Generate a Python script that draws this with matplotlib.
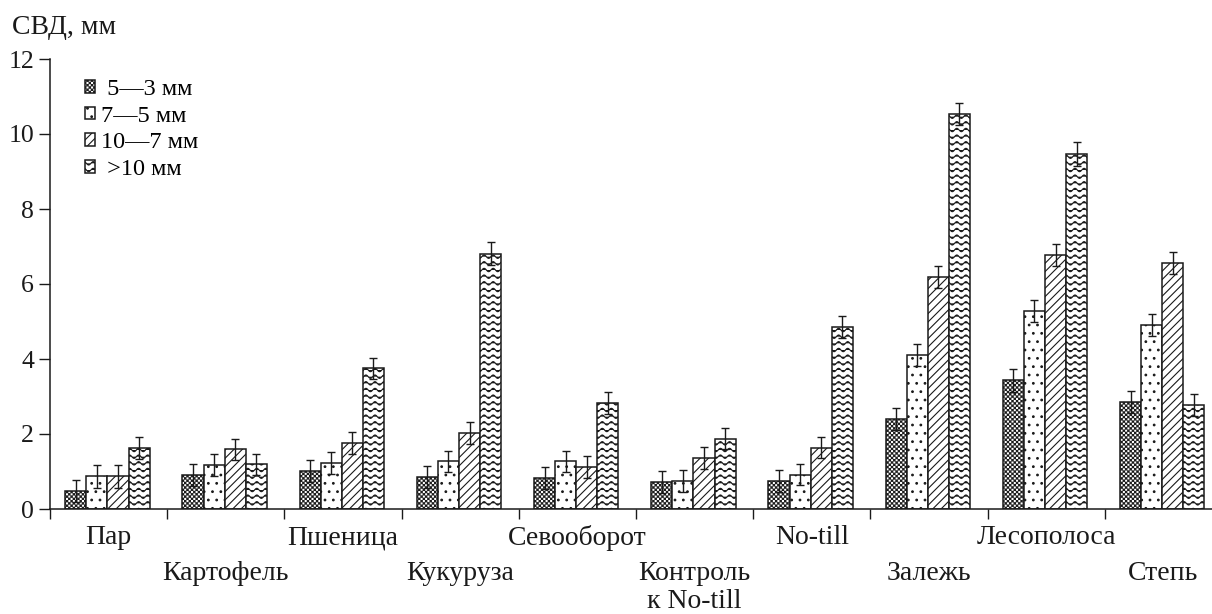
import warnings
import numpy as np
import matplotlib
matplotlib.use("Agg")
import matplotlib.pyplot as plt
import matplotlib.hatch as mhatch
from matplotlib.path import Path

warnings.filterwarnings("ignore")

# ---- data -------------------------------------------------------------
groups = ["Пар", "Картофель", "Пшеница", "Кукуруза", "Севооборот",
          "Контроль\nк No-till", "No-till", "Залежь", "Лесополоса", "Степь"]
series = [" 5—3 мм", "7—5 мм", "10—7 мм", " >10 мм"]

v_5_3 = [0.48, 0.91, 1.02, 0.86, 0.82, 0.72, 0.75, 2.41, 3.43, 2.86]
v_7_5 = [0.87, 1.17, 1.22, 1.27, 1.27, 0.75, 0.92, 4.11, 5.28, 4.91]
v_10_7 = [0.87, 1.59, 1.76, 2.03, 1.13, 1.36, 1.64, 6.18, 6.77, 6.57]
v_gt10 = [1.62, 1.19, 3.75, 6.81, 2.83, 1.88, 4.86, 10.54, 9.46, 2.78]

e_5_3 = [0.29, 0.29, 0.29, 0.29, 0.29, 0.29, 0.29, 0.29, 0.30, 0.29]
e_7_5 = [0.30, 0.29, 0.29, 0.29, 0.29, 0.29, 0.29, 0.29, 0.30, 0.29]
e_10_7 = [0.30, 0.29, 0.29, 0.29, 0.29, 0.29, 0.29, 0.29, 0.29, 0.29]
e_gt10 = [0.29, 0.29, 0.29, 0.31, 0.29, 0.29, 0.29, 0.29, 0.32, 0.29]


# ---- extra hatch patterns: checkerboard ('c') and waves ('~') ---------
class CheckerHatch(mhatch.HatchPatternBase):
    def __init__(self, hatch, density):
        self.n = 44 if "c" in hatch else 0
        self.num_squares = (self.n * self.n) // 2
        self.num_vertices = self.num_squares * 5

    def set_vertices_and_codes(self, vertices, codes):
        cell = 1.0 / self.n
        side = cell * 0.6
        k = 0
        for i in range(self.n):
            for j in range(self.n):
                if (i + j) % 2:
                    continue
                x0 = i * cell + (cell - side) / 2
                y0 = j * cell + (cell - side) / 2
                vertices[k:k + 5] = [(x0, y0), (x0 + side, y0),
                                     (x0 + side, y0 + side), (x0, y0 + side),
                                     (x0, y0)]
                codes[k:k + 5] = [Path.MOVETO, Path.LINETO, Path.LINETO,
                                  Path.LINETO, Path.CLOSEPOLY]
                k += 5


class WaveHatch(mhatch.HatchPatternBase):
    def __init__(self, hatch, density):
        self.num_lines = 15 if "~" in hatch else 0
        self.num_pts = 145
        self.num_vertices = self.num_lines * self.num_pts

    def set_vertices_and_codes(self, vertices, codes):
        t = np.linspace(0.0, 1.0, self.num_pts)
        wave = 0.017 * np.sin(2 * np.pi * 11 * t)
        for k in range(self.num_lines):
            sl = slice(k * self.num_pts, (k + 1) * self.num_pts)
            vertices[sl, 0] = t
            vertices[sl, 1] = (k + 0.5) / self.num_lines + wave
            codes[sl] = Path.LINETO
            codes[k * self.num_pts] = Path.MOVETO


mhatch._hatch_types.extend([CheckerHatch, WaveHatch])

# ---- style --------------------------------------------------------------
plt.rcParams["font.family"] = ["Liberation Serif", "DejaVu Serif"]
plt.rcParams["hatch.linewidth"] = 0.8
plt.rcParams["hatch.color"] = "#1a1a1a"
ink = "#1a1a1a"

fig = plt.figure(figsize=(12.12, 6.14), dpi=100)
ax = fig.add_axes([50 / 1212, 105 / 614, 1162 / 1212, 450 / 614])

values = [v_5_3, v_7_5, v_10_7, v_gt10]
errors = [e_5_3, e_7_5, e_10_7, e_gt10]
hatches = ["c", "..", "////", "~"]

n = len(groups)
x = np.arange(n) + 0.49
w = 0.18
for j in range(4):
    ax.bar(x + (j - 1.5) * w, values[j], w, color="white", edgecolor=ink,
           linewidth=1.1, hatch=hatches[j], label=series[j], zorder=2)
    ax.errorbar(x + (j - 1.5) * w, values[j], yerr=errors[j], fmt="none",
                ecolor=ink, elinewidth=1.0, capsize=3.0, capthick=1.0,
                zorder=3)

ax.set_ylim(0, 12)
ax.set_xlim(0, 1162 / 117.2)
ax.set_yticks(np.arange(0, 13, 2))
ax.tick_params(axis="y", direction="out", length=8, width=1.0, pad=3.5,
               labelsize=18.5, colors=ink)
for s in ("top", "right"):
    ax.spines[s].set_visible(False)
for s in ("left", "bottom"):
    ax.spines[s].set_linewidth(1.1)
    ax.spines[s].set_color(ink)

# group separators on the x axis, names in two staggered rows
ax.set_xticks(np.arange(0, n))
ax.set_xticklabels([])
ax.tick_params(axis="x", direction="out", length=7, width=1.0, colors=ink)
for i, name in enumerate(groups):
    off = -29 if i % 2 == 0 else -65
    for k, line in enumerate(name.split("\n")):
        ax.annotate(line, xy=(i + 0.5, 0), xycoords="data",
                    xytext=(0, (off - 28 * k) * 0.72),
                    textcoords="offset points", ha="center", va="center",
                    fontsize=20, color=ink, annotation_clip=False)

fig.text(12 / 1212, 1 - 27 / 614, "СВД, мм", fontsize=20, color=ink,
         ha="left", va="center")

leg = ax.legend(loc="upper left", bbox_to_anchor=(35 / 1162, 0.955),
                frameon=False, fontsize=17.5, handlelength=0.42,
                handleheight=0.42, handletextpad=0.25, labelspacing=0.23,
                borderaxespad=0, borderpad=0)

fig.savefig("out.png", dpi=100)
